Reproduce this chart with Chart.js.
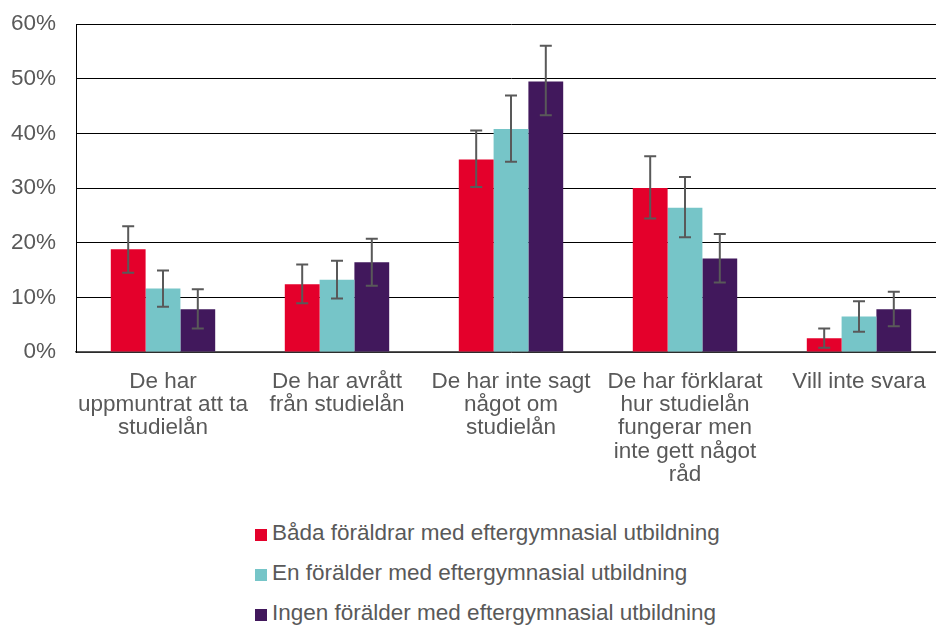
<!DOCTYPE html>
<html lang="sv">
<head>
    <meta charset="UTF-8">
    <title>Föräldrarnas råd om studielån</title>
    <script src="https://cdn.jsdelivr.net/npm/chart.js"></script>
    <style>
        body {
            margin: 0;
            overflow: hidden;
            background: #fff;
            font-family: "Liberation Sans", Arial, sans-serif;
        }
        .wrap {
            position: relative;
            width: 946px;
            height: 628px;
        }
        #legend {
            position: absolute;
            left: 255px;
            top: 518px;
            color: #595959;
            font-size: 22.5px;
        }
        .item {
            height: 40px;
            line-height: 30px;
            white-space: nowrap;
        }
        .box {
            display: inline-block;
            width: 12px;
            height: 12px;
            margin-right: 5px;
            vertical-align: -1px;
        }
    </style>
</head>
<body>
    <div class="wrap">
        <canvas id="chart" width="946" height="505"></canvas>
        <div id="legend"></div>
    </div>

    <script>
        const categories = [
            ["De har", "uppmuntrat att ta", "studielån"],
            ["De har avrått", "från studielån"],
            ["De har inte sagt", "något om", "studielån"],
            ["De har förklarat", "hur studielån", "fungerar men", "inte gett något", "råd"],
            ["Vill inte svara"]
        ];
        const seriesNames = [
            "Båda föräldrar med eftergymnasial utbildning",
            "En förälder med eftergymnasial utbildning",
            "Ingen förälder med eftergymnasial utbildning"
        ];
        const seriesColors = ["#E4002B", "#76C5C8", "#41185C"];

        // andel i procent
        const bothValues = [18.8, 12.4, 35.2, 30.0, 2.5];
        const oneValues = [11.6, 13.2, 40.8, 26.4, 6.5];
        const noneValues = [7.8, 16.4, 49.5, 17.1, 7.8];

        // konfidensintervall (nedre / övre)
        const bothLow = [14.5, 8.9, 30.2, 24.4, 0.8];
        const bothHigh = [23.0, 16.0, 40.5, 35.8, 4.3];
        const oneLow = [8.3, 9.8, 34.8, 21.0, 3.7];
        const oneHigh = [14.9, 16.7, 46.9, 32.0, 9.3];
        const noneLow = [4.3, 12.1, 43.3, 12.7, 4.7];
        const noneHigh = [11.5, 20.7, 56.0, 21.6, 11.0];

        const yTicks = [0, 10, 20, 30, 40, 50, 60];

        const values = [bothValues, oneValues, noneValues];
        const lows = [bothLow, oneLow, noneLow];
        const highs = [bothHigh, oneHigh, noneHigh];

        const errorBars = {
            id: "errorBars",
            afterDatasetsDraw(chart) {
                const ctx = chart.ctx;
                const y = chart.scales.y;
                ctx.save();
                ctx.strokeStyle = "#595959";
                ctx.lineWidth = 2;
                chart.data.datasets.forEach((ds, i) => {
                    chart.getDatasetMeta(i).data.forEach((bar, j) => {
                        const top = y.getPixelForValue(highs[i][j]);
                        const bottom = y.getPixelForValue(lows[i][j]);
                        ctx.beginPath();
                        ctx.moveTo(bar.x, top);
                        ctx.lineTo(bar.x, bottom);
                        ctx.moveTo(bar.x - 6, top);
                        ctx.lineTo(bar.x + 6, top);
                        ctx.moveTo(bar.x - 6, bottom);
                        ctx.lineTo(bar.x + 6, bottom);
                        ctx.stroke();
                    });
                });
                ctx.restore();
            }
        };

        const font = { family: "'Liberation Sans', Arial, sans-serif", size: 22.5, lineHeight: 1.036 };

        new Chart(document.getElementById("chart"), {
            type: "bar",
            data: {
                labels: categories,
                datasets: seriesNames.map((name, i) => ({
                    label: name,
                    data: values[i],
                    backgroundColor: seriesColors[i],
                    categoryPercentage: 0.6,
                    barPercentage: 1
                }))
            },
            options: {
                responsive: false,
                animation: false,
                layout: { padding: { top: 24, left: 0, right: 0, bottom: 0 } },
                plugins: {
                    legend: { display: false },
                    tooltip: { enabled: false }
                },
                scales: {
                    x: {
                        grid: { display: false, drawTicks: false },
                        border: { color: "#595959", width: 1.5 },
                        ticks: { color: "#595959", font: font, padding: 18, maxRotation: 0, autoSkip: false },
                        afterFit: s => { s.height = 153; }
                    },
                    y: {
                        min: 0,
                        max: 60,
                        afterBuildTicks: s => { s.ticks = yTicks.map(v => ({ value: v })); },
                        grid: { color: "#000", lineWidth: 1, drawTicks: false },
                        border: { color: "#000", width: 1 },
                        ticks: { color: "#595959", font: font, padding: 20, callback: v => v + "%" },
                        afterFit: s => {
                            s.width = 76;
                            s.paddingTop = 0;
                            s.paddingBottom = 0;
                        }
                    }
                }
            },
            plugins: [errorBars]
        });

        const legend = document.getElementById("legend");
        seriesNames.forEach((name, i) => {
            const row = document.createElement("div");
            row.className = "item";
            row.innerHTML = '<span class="box" style="background:' + seriesColors[i] + '"></span>' + name;
            legend.appendChild(row);
        });
    </script>
</body>
</html>
